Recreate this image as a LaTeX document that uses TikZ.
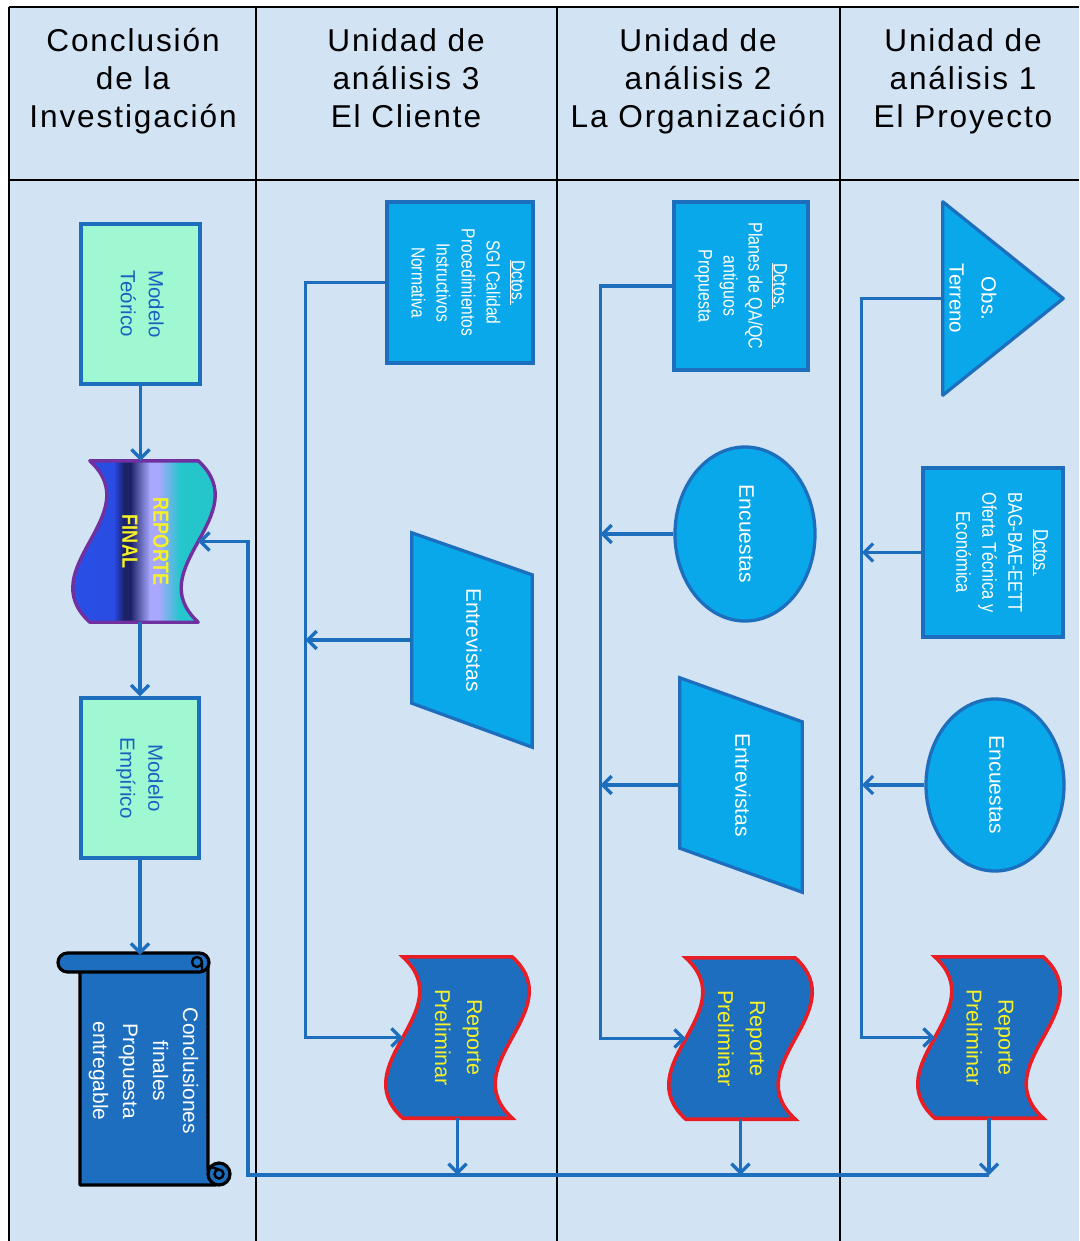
\documentclass[tikz,border=0pt]{standalone}
\usepackage{graphicx}
\usepackage{fontspec}
\setmainfont{Liberation Sans}
\newfontfamily\headfont[LetterSpace=6]{Liberation Sans}
\newfontfamily\narrowfont[FakeStretch=0.82]{Liberation Sans}
\usetikzlibrary{shapes.geometric,arrows.meta}
\pgfdeclarelayer{background}
\pgfsetlayers{background,main}

\definecolor{paper}{RGB}{210,227,244}
\definecolor{flowblue}{RGB}{29,111,190}
\definecolor{boxcyan}{RGB}{8,168,234}
\definecolor{deepblue}{RGB}{30,110,192}
\definecolor{mint}{RGB}{160,248,210}
\definecolor{mintext}{RGB}{26,96,190}
\definecolor{reportred}{RGB}{232,30,36}
\definecolor{labelyellow}{RGB}{245,240,40}
\definecolor{finalpurple}{RGB}{112,48,160}
\definecolor{rfblue}{RGB}{42,82,235}
\definecolor{rfblueB}{RGB}{38,66,210}
\definecolor{rfnavy}{RGB}{28,34,104}
\definecolor{rflav}{RGB}{168,168,255}
\definecolor{rfteal}{RGB}{36,198,204}

% text set top-to-bottom, several centred lines
\newcommand{\vtxt}[1]{\rotatebox{-90}{\begin{tabular}{@{}c@{}}#1\end{tabular}}}

\tikzset{
  lane/.style={draw=black, line width=2.4pt},
  headtext/.style={align=center, font=\headfont\fontsize{31.6}{38}\selectfont},
  flow/.style={draw=flowblue, line width=3.3pt, -{Straight Barb[length=9pt,width=18pt]}},
  modelbox/.style={rectangle, fill=mint, draw=flowblue, line width=3.3pt, inner sep=0pt,
    text=mintext, font=\fontsize{20.5}{28}\selectfont},
  docbox/.style={rectangle, fill=boxcyan, draw=flowblue, line width=3.3pt, inner sep=0pt,
    text=white, font=\narrowfont\fontsize{19.5}{25}\selectfont},
  survey/.style={ellipse, fill=boxcyan, draw=flowblue, line width=3.3pt, inner sep=0pt,
    text=white, font=\fontsize{21}{28}\selectfont},
  holder/.style={rectangle, inner sep=0pt},
  bluefill/.style={fill=boxcyan, draw=flowblue, line width=3.3pt},
  reportfill/.style={fill=deepblue, draw=reportred, line width=3.6pt},
  reporttext/.style={text=labelyellow, font=\fontsize{21.5}{32}\selectfont},
  scrollfill/.style={fill=deepblue, draw=black, line width=3.2pt, line join=round}
}

\begin{document}
\begin{tikzpicture}[x=1pt,y=-1pt]
\useasboundingbox (0,0) rectangle (1079,1241);

% ---------- paper and swimlane grid ----------
\begin{pgfonlayer}{background}
  \fill[paper] (9,7) rectangle (1079,1241);
  \draw[lane] (9,7) -- (1079,7);
  \draw[lane] (9,180) -- (1079,180);
  \foreach \lx in {9,256,557,840}
    \draw[lane] (\lx,7) -- (\lx,1241);
\end{pgfonlayer}

% ---------- headers ----------
\node[headtext] (h0) at (133,81) {Conclusión\\de la\\Investigación};
\node[headtext] (h3) at (406,78) {Unidad de\\análisis 3\\El Cliente};
\node[headtext] (h2) at (698,81) {Unidad de\\análisis 2\\La Organización};
\node[headtext] (h1) at (963,81) {Unidad de\\análisis 1\\El Proyecto};

% ---------- lane: conclusion ----------
\node[modelbox, minimum width=119pt, minimum height=160pt] (mt) at (140.5,304) {\vtxt{Modelo\\Teórico}};
\node[holder, minimum width=108pt, minimum height=161pt,
      text=labelyellow, font=\bfseries\narrowfont\fontsize{22}{31}\selectfont] (rf) at (144,541.5) {\vtxt{REPORTE\\FINAL}};
\node[modelbox, minimum width=118pt, minimum height=160pt] (me) at (140,778) {\vtxt{Modelo\\Empírico}};
\node[holder, minimum width=128pt, minimum height=232pt, text=white,
      font=\fontsize{21}{30}\selectfont] (sc) at (144,1071) {\vtxt{Conclusiones\\finales\\Propuesta\\entregable}};

\begin{pgfonlayer}{background}
  % final report (wavy document) with its colour bands
  \path[path picture={
      \shade[left color=rfblue, right color=rfblueB] (68,455) rectangle (116,628);
      \shade[left color=rfblueB, right color=rfnavy] (115.5,455) rectangle (124,628);
      \fill[rfnavy] (123.5,455) rectangle (131,628);
      \shade[left color=rfnavy, right color=rflav] (130.5,455) rectangle (150,628);
      \fill[rflav] (149.5,455) rectangle (159,628);
      \shade[left color=rflav, right color=rfteal] (158.5,455) rectangle (180,628);
      \fill[rfteal] (179.5,455) rectangle (224,628);
    }]
    (rf.north west) .. controls +(59,54) and +(-59,-54) .. (rf.south west)
    -- (rf.south east) .. controls +(-59,-54) and +(59,54) .. (rf.north east) -- cycle;
  \draw[finalpurple, line width=3.4pt, line join=round]
    (rf.north west) .. controls +(59,54) and +(-59,-54) .. (rf.south west)
    -- (rf.south east) .. controls +(-59,-54) and +(59,54) .. (rf.north east) -- cycle;
  % scroll
  \filldraw[scrollfill] (80,966) -- (80,1185) -- (216,1185) -- (208,1170) -- (208,962) -- cycle;
  \filldraw[scrollfill] (219,1174) circle (11);
  \draw[black, line width=2.4pt] (219,1174) circle (4.5) (219,1169.5) -- (208,1166);
  \filldraw[scrollfill, rounded corners=9.5pt] (58,953) rectangle (209,972);
  \draw[black, line width=2.4pt] (197,962) circle (5) (202,962) -- (202,972);
\end{pgfonlayer}

% ---------- lane: unit 3 ----------
\node[docbox, minimum width=146pt, minimum height=161pt,
      font=\narrowfont\fontsize{19}{25}\selectfont] (d3) at (460,282.5)
  {\hspace*{13pt}\vtxt{\underline{Dctos.}\\SGI Calidad\\Procedimientos\\Instructivos\\Normativa}};
\node[holder, minimum width=120pt, minimum height=214pt, text=white,
      font=\fontsize{21}{28}\selectfont] (e3) at (472,640) {\vtxt{Entrevistas}};
\node[holder, minimum width=109pt, minimum height=161pt, reporttext] (rp3) at (457.5,1037.5) {\vtxt{Reporte\\Preliminar}};

% ---------- lane: unit 2 ----------
\node[docbox, minimum width=134pt, minimum height=168pt] (d2) at (741,286)
  {\vtxt{\underline{Dctos.}\\Planes de QA/QC\\antiguos\\Propuesta}};
\node[survey, minimum width=140pt, minimum height=174pt] (en2) at (745,534) {\vtxt{Encuestas}};
\node[holder, minimum width=122pt, minimum height=214pt, text=white,
      font=\fontsize{21}{28}\selectfont] (e2) at (741,785) {\vtxt{Entrevistas}};
\node[holder, minimum width=109pt, minimum height=161pt, reporttext] (rp2) at (740.5,1038.5) {\vtxt{Reporte\\Preliminar}};

% ---------- lane: unit 1 ----------
\node[holder, minimum width=120pt, minimum height=193pt] (ot) at (1003,298.5) {};
\node[text=white, font=\fontsize{20.5}{32}\selectfont] (obs) at (972,298.5) {\vtxt{Obs.\\Terreno}};
\node[docbox, minimum width=140pt, minimum height=169pt,
      font=\narrowfont\fontsize{20}{26}\selectfont] (d1) at (993,552.5)
  {\hspace*{15pt}\vtxt{\underline{Dctos.}\\BAG-BAE-EETT\\Oferta Técnica y\\Económica}};
\node[survey, minimum width=138pt, minimum height=172pt] (en1) at (995,785) {\vtxt{Encuestas}};
\node[holder, minimum width=108pt, minimum height=161pt, reporttext] (rp1) at (989,1037.5) {\vtxt{Reporte\\Preliminar}};

\begin{pgfonlayer}{background}
  % interview forms (manual input)
  \filldraw[bluefill] (e3.north west) -- ([yshift=-42pt]e3.north east) -- (e3.south east) -- ([yshift=44pt]e3.south west) -- cycle;
  \filldraw[bluefill] (e2.north west) -- ([yshift=-44pt]e2.north east) -- (e2.south east) -- ([yshift=44pt]e2.south west) -- cycle;
  % field observation
  \filldraw[bluefill, line join=round] (ot.north west) -- (ot.east) -- (ot.south west) -- cycle;
  % preliminary reports
  \foreach \r in {rp3,rp2,rp1}
    \filldraw[reportfill]
      (\r.north west) .. controls +(59,54) and +(-59,-54) .. (\r.south west)
      -- (\r.south east) .. controls +(-59,-54) and +(59,54) .. (\r.north east) -- cycle;
\end{pgfonlayer}

% ---------- connectors ----------
\draw[flow] (mt.south) -- (mt.south |- rf.north);
\draw[flow] (me.north |- rf.south) -- (me.north);
\draw[flow] (me.south) -- (me.south |- sc.north);

\draw[flow] (d3.west) -- ++(-80,0) coordinate (j3) |- (rp3.west);
\draw[flow] (e3.west) -- (e3.west -| j3);

\draw[flow] (d2.west) -- ++(-72,0) coordinate (j2) |- (rp2.west);
\draw[flow] (en2.west) -- (en2.west -| j2);
\draw[flow] (e2.west) -- (e2.west -| j2);

\draw[flow] (ot.west) -- ++(-81,0) coordinate (j1) |- (rp1.west);
\draw[flow] (d1.west) -- (d1.west -| j1);
\draw[flow] (en1.west) -- (en1.west -| j1);

\coordinate (bus) at (248,1175);
\draw[flow] (rp3.south) -- (rp3.south |- bus);
\draw[flow] (rp2.south) -- (rp2.south |- bus);
\draw[flow] (rp1.south) -- (rp1.south |- bus);
\draw[flow] (rp1.south |- bus) -- (bus) |- (rf.east);
\end{tikzpicture}
\end{document}
